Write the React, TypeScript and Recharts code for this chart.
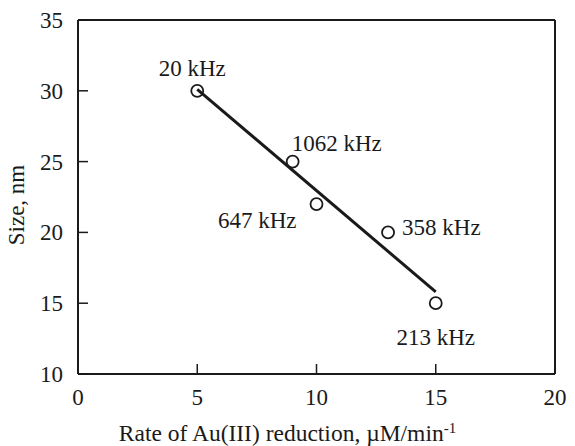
import React from 'react';
import { ScatterChart, Scatter, XAxis, YAxis, LabelList } from 'recharts';

const rates = [5, 9, 10, 13, 15];
const sizes = [30, 25, 22, 20, 15];
const freqLabels = ['20 kHz', '1062 kHz', '647 kHz', '358 kHz', '213 kHz'];
const fitRates = [5, 15];
const fitSizes = [30.1, 15.8];
const xTicks = [0, 5, 10, 15, 20];
const yTicks = [10, 15, 20, 25, 30, 35];

const points = rates.map((x, i) => ({ x, y: sizes[i], label: freqLabels[i] }));
const fit = fitRates.map((x, i) => ({ x, y: fitSizes[i] }));

const FONT = '"Liberation Serif", "Times New Roman", serif';
const FS = 23;
const TICK = 10;
const INK = '#1a1a1a';
const textStyle: React.CSSProperties = { fontFamily: FONT, fontSize: FS, fontWeight: 400 };

const placement = [
  { dx: -5, dy: -15, anchor: 'middle' },
  { dx: -1, dy: -11, anchor: 'start' },
  { dx: -20, dy: 24, anchor: 'end' },
  { dx: 14, dy: 3, anchor: 'start' },
  { dx: 0, dy: 42, anchor: 'middle' },
];

const BottomTick = (p: any) => (
  <g>
    <line x1={p.x} y1={p.y} x2={p.x} y2={p.y - TICK} stroke={INK} strokeWidth={1.5} />
    <text x={p.x} y={p.y + 31} textAnchor="middle" style={textStyle} fill={INK}>
      {String(p.payload.value)}
    </text>
  </g>
);
const TopTick = (p: any) => (
  <line x1={p.x} y1={p.y} x2={p.x} y2={p.y + TICK} stroke={INK} strokeWidth={1.5} />
);
const LeftTick = (p: any) => (
  <g>
    <line x1={p.x} y1={p.y} x2={p.x + TICK} y2={p.y} stroke={INK} strokeWidth={1.5} />
    <text x={p.x - 15} y={p.y + 8} textAnchor="end" style={textStyle} fill={INK}>
      {String(p.payload.value)}
    </text>
  </g>
);
const RightTick = (p: any) => (
  <line x1={p.x} y1={p.y} x2={p.x - TICK} y2={p.y} stroke={INK} strokeWidth={1.5} />
);

const Circle = (p: any) => (
  <circle cx={p.cx} cy={p.cy} r={6} fill="none" stroke={INK} strokeWidth={1.8} />
);

const PointLabel = (p: any) => {
  const pl = placement[p.index] || { dx: 0, dy: 0, anchor: 'middle' };
  return (
    <text
      x={p.x + p.width / 2 + pl.dx}
      y={p.y + p.height / 2 + pl.dy}
      textAnchor={pl.anchor}
      style={textStyle}
      fill={INK}
    >
      {p.value}
    </text>
  );
};

const XTitle = (p: any) => {
  const vb = p.viewBox;
  return (
    <text x={vb.x + vb.width / 2 - 29} y={vb.y + 67} textAnchor="middle" style={{ ...textStyle, fontSize: 23.5 }} fill={INK}>
      Rate of Au(III) reduction, µM/min
      <tspan dy={-8} style={{ fontSize: 15 }}>-1</tspan>
    </text>
  );
};

const YTitle = (p: any) => {
  const vb = p.viewBox;
  const cx = vb.x + 24;
  const cy = vb.y + vb.height / 2 + 8;
  return (
    <text x={cx} y={cy} transform={`rotate(-90, ${cx}, ${cy})`} textAnchor="middle" style={textStyle} fill={INK}>
      Size, nm
    </text>
  );
};

export default function App() {
  return (
    <div style={{ position: 'absolute', left: 0, top: 0, background: '#fff', fontFamily: FONT }}>
      <ScatterChart width={575} height={446} margin={{ top: 19, right: 19, bottom: 0, left: 0 }} style={{ fontFamily: FONT }}>
        <XAxis
          xAxisId="b"
          type="number"
          dataKey="x"
          domain={[0, 20]}
          ticks={xTicks}
          orientation="bottom"
          height={72}
          tickSize={0}
          tickMargin={0}
          tick={<BottomTick />}
          axisLine={{ stroke: INK, strokeWidth: 2 }}
          tickLine={false}
          label={<XTitle />}
        />
        <XAxis
          xAxisId="t"
          type="number"
          dataKey="x"
          domain={[0, 20]}
          ticks={xTicks}
          orientation="top"
          height={1}
          tickSize={0}
          tickMargin={0}
          tick={<TopTick />}
          axisLine={{ stroke: INK, strokeWidth: 2 }}
          tickLine={false}
        />
        <YAxis
          yAxisId="l"
          type="number"
          dataKey="y"
          domain={[10, 35]}
          ticks={yTicks}
          orientation="left"
          width={78}
          tickSize={0}
          tickMargin={0}
          tick={<LeftTick />}
          axisLine={{ stroke: INK, strokeWidth: 2 }}
          tickLine={false}
          label={<YTitle />}
        />
        <YAxis
          yAxisId="r"
          type="number"
          dataKey="y"
          domain={[10, 35]}
          ticks={yTicks}
          orientation="right"
          width={1}
          tickSize={0}
          tickMargin={0}
          tick={<RightTick />}
          axisLine={{ stroke: INK, strokeWidth: 2 }}
          tickLine={false}
        />
        <Scatter
          xAxisId="b"
          yAxisId="l"
          data={points}
          shape={<Circle />}
          isAnimationActive={false}
        >
          <LabelList dataKey="label" content={<PointLabel />} />
        </Scatter>
        <Scatter
          xAxisId="b"
          yAxisId="l"
          data={fit}
          line={{ stroke: INK, strokeWidth: 3 }}
          shape={() => null}
          isAnimationActive={false}
        />
      </ScatterChart>
    </div>
  );
}
